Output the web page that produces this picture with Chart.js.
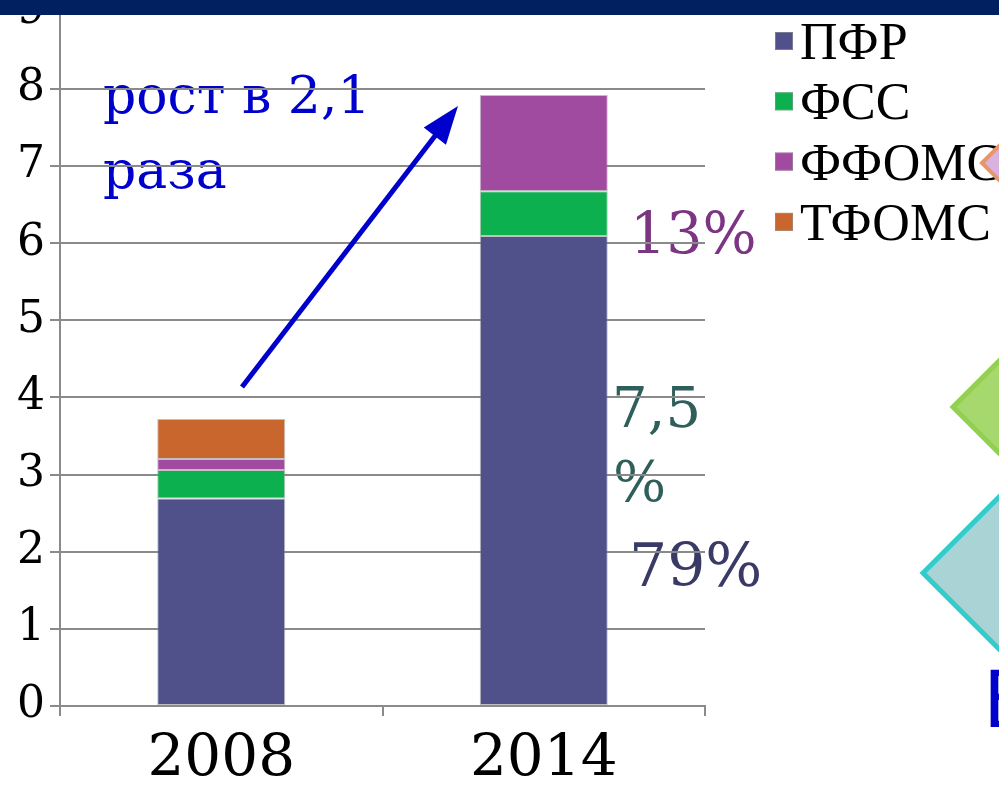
<!DOCTYPE html>
<html>
<head>
<meta charset="utf-8">
<script src="https://cdn.jsdelivr.net/npm/chart.js@4.4.1/dist/chart.umd.min.js"></script>
<style>
  html, body { margin: 0; padding: 0; background: #ffffff; }
  #wrap { position: relative; width: 999px; height: 787px; overflow: hidden; }
  canvas { display: block; }
</style>
</head>
<body>
<div id="wrap"><canvas id="c" width="999" height="787"></canvas></div>
<script>
// ---- data ----
const categories = ['2008', '2014'];
const seriesNames = ['ПФР', 'ФСС', 'ФФОМС', 'ТФОМС'];
const pfrValues   = [2.69, 6.09];
const fssValues   = [0.37, 0.58];
const ffomsValues = [0.14, 1.25];
const tfomsValues = [0.52, 0];
const yMin = 0, yMax = 9, yStep = 1;
const growthText = ['рост в 2,1', 'раза'];
const shareLabels = ['13%', '7,5', '%', '79%'];

// ---- styles ----
const seriesColors = ['#50518A', '#0DB04F', '#A04AA0', '#C8662E'];
const gridGrey = '#8a8a8a';

function drawAnnotationsBehind(chart) {
  const ctx = chart.ctx;
  ctx.save();
  ctx.fillStyle = '#ffffff';
  ctx.fillRect(0, 0, chart.width, chart.height);
  ctx.textBaseline = 'alphabetic';
  ctx.textAlign = 'left';
  // growth text
  ctx.fillStyle = '#0000CC';
  ctx.font = '52px "DejaVu Serif"';
  ctx.fillText(growthText[0], 103, 113);
  ctx.fillText(growthText[1], 103, 188);
  // share labels
  ctx.fillStyle = '#7B3582';
  ctx.font = '57px "DejaVu Serif"';
  ctx.fillText(shareLabels[0], 630, 253);
  ctx.fillStyle = '#2F5F5A';
  ctx.font = '56px "DejaVu Serif"';
  ctx.fillText(shareLabels[1], 612, 427);
  ctx.fillText(shareLabels[2], 613, 501);
  ctx.fillStyle = '#3A3A66';
  ctx.font = '60px "DejaVu Serif"';
  ctx.fillText(shareLabels[3], 629, 586);
  ctx.restore();
}

function diamond(ctx, lx, ly, h, fill, stroke, lw) {
  ctx.beginPath();
  ctx.moveTo(lx, ly);
  ctx.lineTo(lx + h, ly - h);
  ctx.lineTo(lx + 2 * h, ly);
  ctx.lineTo(lx + h, ly + h);
  ctx.closePath();
  ctx.fillStyle = fill;
  ctx.fill();
  ctx.lineWidth = lw;
  ctx.strokeStyle = stroke;
  ctx.lineJoin = 'miter';
  ctx.stroke();
}

function drawOverlay(chart) {
  const ctx = chart.ctx;
  ctx.save();
  // arrow
  const x0 = 242, y0 = 387, x1 = 458, y1 = 106;
  const ang = Math.atan2(y1 - y0, x1 - x0);
  const headLen = 38, headHalf = 14;
  const bx = x1 - headLen * Math.cos(ang), by = y1 - headLen * Math.sin(ang);
  ctx.strokeStyle = '#0000CC';
  ctx.fillStyle = '#0000CC';
  ctx.lineWidth = 5;
  ctx.beginPath();
  ctx.moveTo(x0, y0);
  ctx.lineTo(bx + 4 * Math.cos(ang), by + 4 * Math.sin(ang));
  ctx.stroke();
  ctx.beginPath();
  ctx.moveTo(x1, y1);
  ctx.lineTo(bx + headHalf * Math.sin(ang), by - headHalf * Math.cos(ang));
  ctx.lineTo(bx - headHalf * Math.sin(ang), by + headHalf * Math.cos(ang));
  ctx.closePath();
  ctx.fill();

  // legend from datasets
  const ds = chart.data.datasets;
  ctx.font = '52px "Liberation Serif"';
  ctx.textBaseline = 'alphabetic';
  ctx.textAlign = 'left';
  for (let i = 0; i < ds.length; i++) {
    const cy = 41 + i * 60.3;
    ctx.fillStyle = ds[i].backgroundColor;
    ctx.fillRect(775, cy - 9, 18, 18);
    ctx.strokeStyle = 'rgba(150,150,150,0.6)';
    ctx.lineWidth = 1;
    ctx.strokeRect(775.5, cy - 8.5, 17, 17);
    ctx.fillStyle = '#000000';
    ctx.fillText(ds[i].label, 800, cy + 18);
  }

  // decorative diamonds on the right
  diamond(ctx, 982, 163, 40, '#D9B2DF', '#E8956A', 4);
  diamond(ctx, 953, 407, 60, '#A6D86E', '#92D050', 5);
  diamond(ctx, 923, 573, 90, '#AAD3D5', '#33CCCC', 5);
  ctx.fillStyle = '#0000CC';
  ctx.font = '78px "DejaVu Sans"';
  ctx.fillText('В', 983, 727);

  // header band
  ctx.fillStyle = '#00205F';
  ctx.fillRect(0, 0, chart.width, 15);
  ctx.restore();
}

const layerPlugin = {
  id: 'layers',
  beforeDraw: drawAnnotationsBehind,
  afterDraw: drawOverlay
};

const datasets = [pfrValues, fssValues, ffomsValues, tfomsValues].map((vals, i) => ({
  label: seriesNames[i],
  data: vals,
  backgroundColor: seriesColors[i],
  borderColor: 'rgba(140,140,140,0.55)',
  borderWidth: (c) => (c.raw ? 1 : 0),
  borderSkipped: false,
  categoryPercentage: 1,
  barPercentage: 0.397
}));

new Chart(document.getElementById('c'), {
  type: 'bar',
  data: { labels: categories, datasets: datasets },
  plugins: [layerPlugin],
  options: {
    responsive: false,
    animation: false,
    devicePixelRatio: 1,
    layout: { padding: { top: 9.5, right: 294, bottom: 0, left: 0 } },
    plugins: { legend: { display: false }, tooltip: { enabled: false } },
    scales: {
      x: {
        stacked: true,
        offset: true,
        grid: { offset: true, drawOnChartArea: false, color: gridGrey, lineWidth: 2, tickLength: 10 },
        border: { color: gridGrey, width: 2 },
        ticks: { color: '#000', font: { family: 'DejaVu Serif', size: 58, lineHeight: 1 }, padding: 15 },
        afterFit: (s) => { s.height = 81; }
      },
      y: {
        stacked: true,
        min: yMin, max: yMax,
        grid: { color: gridGrey, lineWidth: 2, tickLength: 10 },
        border: { color: gridGrey, width: 2 },
        ticks: { stepSize: yStep, color: '#000', font: { family: 'DejaVu Serif', size: 44, lineHeight: 0.3 }, padding: 5 },
        afterFit: (s) => { s.width = 60; }
      }
    }
  }
});
</script>
</body>
</html>
